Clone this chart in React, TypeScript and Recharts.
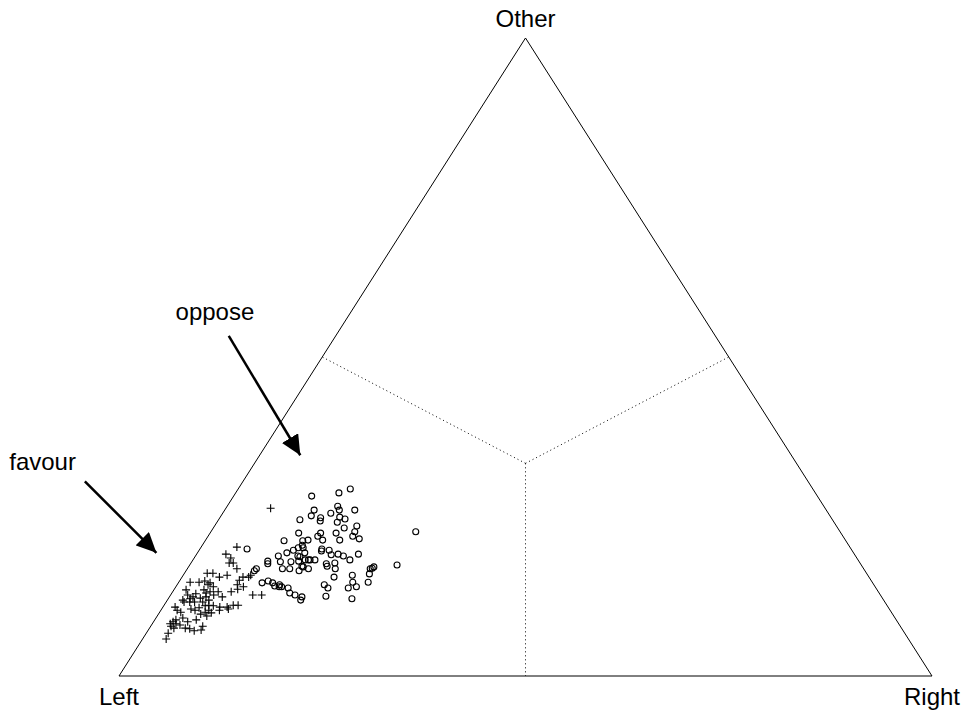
import {
  ReferenceDot,
  ReferenceLine,
  Scatter,
  ScatterChart,
  XAxis,
  YAxis,
} from "recharts"

// ternary shares in %, [right, other]; left = 100 - right - other
const favour: [number, number][] = [
  [5.5, 26.3], [4.4, 20.2], [3.6, 19.1], [4.5, 18.5], [4.7, 17.7], [5.2, 17.7], [6.1, 16.8], [2.8, 16.1], [3.5, 16.1], [4.6, 15.5],
  [5.4, 15.8], [1.4, 14.7], [2.5, 14.7], [3.1, 14.9], [3.8, 14.3], [3.9, 14.6], [4.6, 14.0], [7.3, 15.0], [7.5, 15.5], [8.2, 15.5],
  [8.3, 15.8], [7.4, 14.3], [7.2, 13.2], [7.8, 13.6], [8.3, 14.0], [10.1, 12.7], [11.2, 12.7], [5.6, 13.2], [6.5, 12.4], [1.5, 13.5],
  [2.1, 12.7], [2.7, 12.1], [2.9, 12.4], [3.0, 12.9], [2.2, 11.6], [2.9, 11.6], [3.5, 11.6], [3.9, 12.2], [4.5, 11.6], [4.5, 12.4],
  [5.1, 11.9], [3.7, 13.5], [4.2, 13.0], [4.6, 13.2], [5.3, 12.7], [5.1, 11.0], [5.9, 10.3], [6.1, 11.0], [7.0, 10.8], [8.2, 10.5],
  [8.5, 11.1], [9.1, 11.1], [3.6, 10.5], [4.2, 10.3], [4.5, 10.7], [5.2, 9.7], [5.6, 10.0], [6.4, 9.9], [2.0, 10.3], [2.6, 10.0],
  [1.5, 10.8], [3.3, 9.1], [4.2, 8.5], [5.1, 8.8], [2.4, 8.5], [2.2, 8.2], [2.5, 7.8], [2.9, 8.2], [3.5, 8.0], [4.4, 7.5],
  [5.0, 7.4], [5.7, 7.1], [6.4, 7.8], [2.7, 6.7], [2.9, 5.8], [3.0, 7.5], [6.5, 7.2], [6.1, 9.4], [1.9, 11.9], [2.6, 8.8],
  [7.2, 10.3], [7.9, 10.8], [5.5, 11.1],
]

const oppose: [number, number][] = [
  [9.6, 28.2], [12.7, 28.7], [13.8, 29.3], [11.0, 26.0], [11.1, 25.1], [10.0, 24.5], [13.3, 25.5], [13.6, 26.6], [14.1, 26.0], [16.0, 26.0],
  [12.4, 24.8], [12.6, 24.3], [14.7, 24.9], [15.5, 24.6], [14.8, 24.1], [16.1, 23.2], [17.5, 23.5], [25.2, 22.6], [9.7, 21.2], [10.9, 22.4],
  [12.0, 21.2], [12.6, 21.3], [12.3, 20.5], [13.5, 21.9], [13.6, 22.4], [14.4, 21.3], [15.5, 22.4], [16.5, 21.3], [17.8, 21.9], [17.7, 22.6],
  [18.8, 21.5], [5.8, 19.9], [10.2, 18.8], [11.0, 19.3], [11.6, 19.7], [12.0, 20.1], [12.6, 18.8], [12.9, 18.7], [13.2, 19.3], [12.6, 20.1],
  [15.1, 19.6], [15.0, 19.9], [16.0, 19.7], [16.6, 19.0], [17.4, 19.1], [18.2, 18.8], [19.3, 18.2], [19.9, 19.1], [9.3, 18.0], [9.5, 17.6],
  [10.9, 17.9], [12.2, 17.9], [13.1, 18.0], [13.8, 18.2], [14.2, 18.2], [14.4, 18.2], [15.0, 18.2], [13.9, 17.2], [14.1, 17.1], [11.7, 16.8],
  [12.6, 16.8], [13.9, 16.5], [14.9, 16.8], [16.7, 17.6], [17.0, 17.2], [17.7, 17.7], [18.2, 16.8], [18.7, 15.5], [20.8, 15.8], [22.5, 16.8],
  [22.7, 16.9], [22.8, 17.1], [22.8, 16.0], [23.3, 14.7], [25.5, 17.4], [21.4, 14.7], [22.2, 14.0], [21.3, 13.8], [18.1, 14.3], [18.8, 13.8],
  [19.2, 12.5], [22.6, 12.1], [8.5, 16.8], [8.4, 16.5], [10.9, 14.9], [10.3, 14.6], [11.6, 14.6], [12.1, 14.1], [12.7, 14.0], [12.6, 14.3],
  [13.0, 14.0], [13.9, 13.8], [14.5, 13.0], [15.3, 12.7], [16.3, 12.4], [16.4, 11.9],
]

// corners in plot units (x = right + other/2, y = other)
const corners = [
  { name: "Left", x: 0, y: 0 },
  { name: "Right", x: 100, y: 0 },
  { name: "Other", x: 50, y: 100 },
]
const centre = { x: 50, y: 100 / 3 }
const midpoints = [
  { x: 25, y: 50 },
  { x: 75, y: 50 },
  { x: 50, y: 0 },
]

// annotation arrows, plot units
const notes = [
  { text: "oppose", at: { x: 11.8, y: 57.2 }, from: { x: 13.5, y: 53.3 }, to: { x: 22.3, y: 34.6 } },
  { text: "favour", at: { x: -9.4, y: 33.6 }, from: { x: -4.2, y: 30.5 }, to: { x: 4.6, y: 19.3 } },
]

const toPlot = (pts: [number, number][]) =>
  pts.map(([right, other]) => ({
    x: right + other / 2,
    y: other,
    left: 100 - right - other,
    right,
    other,
  }))

function Cross(props: any) {
  const { cx, cy } = props
  const s = 4
  return (
    <path
      d={`M${cx - s},${cy}H${cx + s}M${cx},${cy - s}V${cy + s}`}
      stroke="#000"
      strokeWidth={1.1}
      fill="none"
    />
  )
}

function Ring(props: any) {
  return <circle cx={props.cx} cy={props.cy} r={3} fill="none" stroke="#000" strokeWidth={1.1} />
}

export default function App() {
  const labelStyle = { fontSize: 24, fill: "#000" }
  return (
    <div
      style={{
        position: "absolute",
        top: 0,
        left: 0,
        width: 974,
        height: 712,
        overflow: "hidden",
        fontFamily: "'Liberation Sans', Arial, sans-serif",
      }}
    >
      <ScatterChart
        width={974}
        height={712}
        margin={{ top: 38, right: 42, bottom: 36, left: 119 }}
      >
        <defs>
          <marker
            id="head"
            markerUnits="userSpaceOnUse"
            markerWidth={20}
            markerHeight={19}
            refX={20}
            refY={9.5}
            orient="auto"
          >
            <path d="M0,0 L20,9.5 L0,19 Z" fill="#000" />
          </marker>
        </defs>
        <XAxis type="number" dataKey="x" domain={[0, 100]} hide />
        <YAxis type="number" dataKey="y" domain={[0, 100]} hide />

        {corners.map((c, i) => {
          const n = corners[(i + 1) % 3]
          return (
            <ReferenceLine
              key={c.name}
              segment={[{ x: c.x, y: c.y }, { x: n.x, y: n.y }]}
              stroke="#000"
              strokeWidth={1}
              ifOverflow="visible"
            />
          )
        })}
        {midpoints.map((m, i) => (
          <ReferenceLine
            key={i}
            segment={[centre, m]}
            stroke="#000"
            strokeWidth={1}
            strokeDasharray="1 3"
            ifOverflow="visible"
          />
        ))}

        {corners.map((c) => (
          <ReferenceDot
            key={c.name}
            x={c.x}
            y={c.y}
            r={0}
            stroke="none"
            ifOverflow="visible"
            label={{
              value: c.name,
              position: c.y > 0 ? "top" : "bottom",
              offset: c.y > 0 ? 11 : 12,
              ...labelStyle,
            }}
          />
        ))}

        {notes.map((n) => (
          <ReferenceLine
            key={n.text + "-arrow"}
            segment={[n.from, n.to]}
            stroke="#000"
            strokeWidth={2.5}
            markerEnd="url(#head)"
            ifOverflow="visible"
          />
        ))}
        {notes.map((n) => (
          <ReferenceDot
            key={n.text}
            x={n.at.x}
            y={n.at.y}
            r={0}
            stroke="none"
            ifOverflow="visible"
            label={{ value: n.text, position: "center", ...labelStyle }}
          />
        ))}

        <Scatter name="favour" data={toPlot(favour)} shape={Cross} isAnimationActive={false} />
        <Scatter name="oppose" data={toPlot(oppose)} shape={Ring} isAnimationActive={false} />
      </ScatterChart>
    </div>
  )
}
